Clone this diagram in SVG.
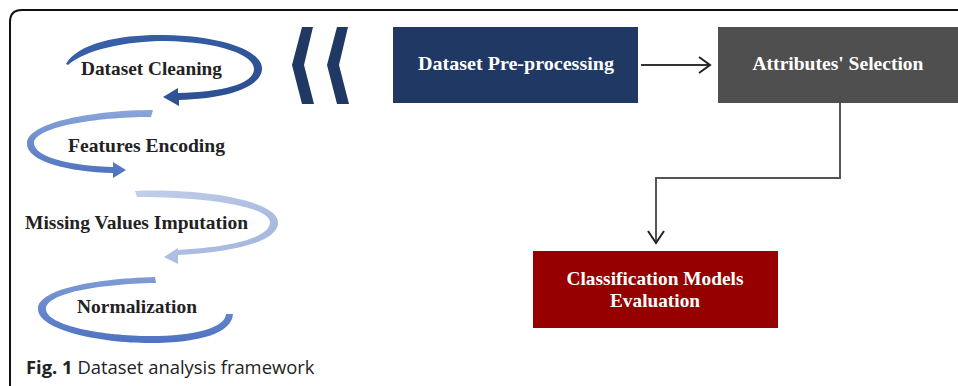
<svg xmlns="http://www.w3.org/2000/svg" width="958" height="386" viewBox="0 0 958 386">
<style>
.lbl{font-family:"Liberation Serif","Times New Roman",serif;font-weight:bold;font-size:19px;fill:#222}
.btxt{font-family:"Liberation Serif","Times New Roman",serif;font-weight:bold;font-size:19px;fill:#fff;text-anchor:middle}
.cap{font-family:"Open Sans","Liberation Sans",sans-serif;font-size:18.4px;fill:#222}
.conn{fill:none;stroke-width:2}
</style>
<defs>
<linearGradient id="g1" x1="0" y1="0" x2="1" y2="1"><stop offset="0" stop-color="#3a62ac"/><stop offset="1" stop-color="#2a4c8c"/></linearGradient>
<linearGradient id="g2" x1="0" y1="0" x2="0" y2="1"><stop offset="0" stop-color="#8aa5da"/><stop offset="1" stop-color="#4b70be"/></linearGradient>
<linearGradient id="g3" x1="0" y1="0" x2="1" y2="1"><stop offset="0" stop-color="#c2cfea"/><stop offset="1" stop-color="#9fb2dc"/></linearGradient>
<linearGradient id="g4" x1="0" y1="0" x2="0" y2="1"><stop offset="0" stop-color="#7f9cd6"/><stop offset="1" stop-color="#4e72c2"/></linearGradient>
</defs>
<rect width="958" height="386" fill="#fff"/>
<path d="M10,386 V22 Q10,10 22,10 H958" fill="none" stroke="#111" stroke-width="2"/>

<g id="dataset-cleaning">
<path d="M66,64 C78,42 125,34 165,35 C225,36 263,52 262,69 C261,88 225,99 179,100 L179,106 L163,97 L178,88 L178,93 C222,92 254,84 254,69 C254,55 220,42 165,41 C125,41 85,50 68,65 Z" fill="url(#g1)"/>
<text class="lbl" x="81" y="75" textLength="141" lengthAdjust="spacingAndGlyphs">Dataset Cleaning</text>
</g>
<g id="features-encoding">
<path d="M153,110 C95,110 28,122 27,143 C26,162 70,172 113,173 L113,178 L126,170 L113,162 L113,167 C75,166 34,158 34,143 C35,127 95,117 151,117 Z" fill="url(#g2)"/>
<text class="lbl" x="68" y="152" textLength="157" lengthAdjust="spacingAndGlyphs">Features Encoding</text>
</g>
<g id="missing-values">
<path d="M135,191 C200,188 277,200 278,222 C279,240 240,252 178,255 L178,264 L164,257 L178,248 L178,250 C235,247 270,237 270,222 C269,207 210,197 137,197 Z" fill="url(#g3)"/>
<text class="lbl" x="25" y="229" textLength="223" lengthAdjust="spacingAndGlyphs">Missing Values Imputation</text>
</g>
<g id="normalization">
<path d="M155,277 C90,279 38,290 38,309 C38,330 100,343 150,343 C200,343 232,333 233,314 L226,314 C225,328 195,336 150,336 C105,336 46,326 46,309 C46,294 95,284 156,283 Z" fill="url(#g4)"/>
<text class="lbl" x="77" y="313" textLength="120" lengthAdjust="spacingAndGlyphs">Normalization</text>
</g>

<g id="chevrons" fill="#1f3864">
<polygon points="302,27 313,27 304,65 314,104 302,104 292,65"/>
<polygon points="337,27 348,27 339,65 349,104 337,104 327,65"/>
</g>

<g id="preprocessing">
<rect x="393" y="27" width="245" height="76" fill="#1f3864"/>
<text class="btxt" x="516" y="70" textLength="196" lengthAdjust="spacingAndGlyphs">Dataset Pre-processing</text>
</g>
<g id="attributes">
<rect x="718" y="27" width="240" height="76" fill="#4f4f4f"/>
<text class="btxt" x="838" y="70" textLength="171" lengthAdjust="spacingAndGlyphs">Attributes' Selection</text>
</g>
<g id="classification">
<rect x="533" y="251" width="245" height="77" fill="#960000"/>
<text class="btxt" x="655" y="285" textLength="177" lengthAdjust="spacingAndGlyphs">Classification Models</text>
<text class="btxt" x="655" y="307" textLength="90" lengthAdjust="spacingAndGlyphs">Evaluation</text>
</g>

<g id="connectors">
<path class="conn" d="M641,65 H709" stroke="#333"/>
<path class="conn" d="M699,57 L710,65 L699,73" stroke="#222"/>
<path class="conn" d="M840,103 V178 H656 V242" stroke="#555"/>
<path class="conn" d="M648,231 L656,243 L664,231" stroke="#222"/>
</g>

<text class="cap" x="26" y="374"><tspan font-weight="bold">Fig. 1</tspan> Dataset analysis framework</text>
</svg>
